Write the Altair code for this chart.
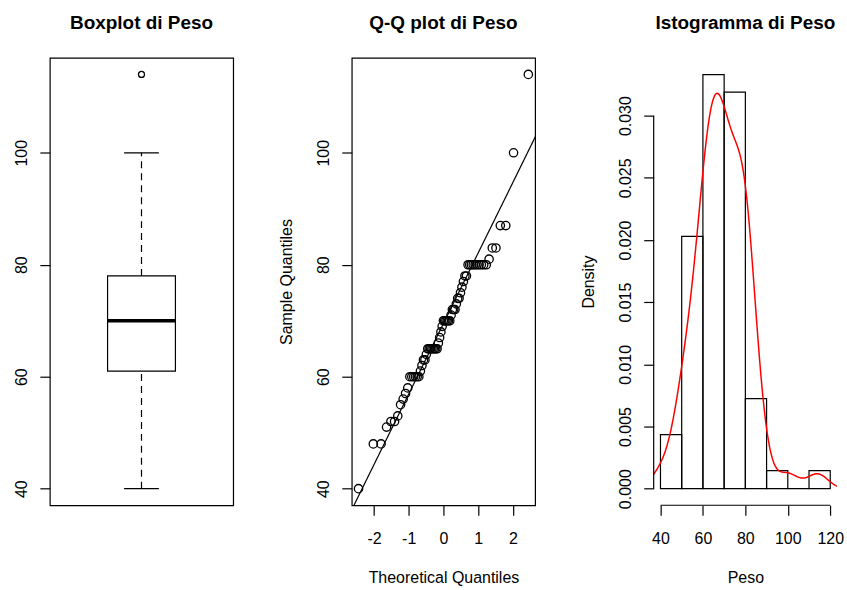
import altair as alt
import pandas as pd

# ---------------- data ----------------
peso = [40, 48, 48,
        51, 52, 52, 53, 55, 56, 57, 58, 60, 60, 60, 60, 60, 60,
        61, 62, 63, 63, 64, 65, 65, 65, 65, 65, 65, 65, 65, 66, 67, 68, 69,
        70, 70, 70, 70, 70, 70,
        71, 72, 72, 72, 73, 74, 74, 75, 76, 77, 78, 78,
        80, 80, 80, 80, 80, 80, 80, 80, 80, 80,
        81, 83, 83, 87, 87, 100, 114]

box_stats = [40, 61, 70, 78, 100]      # lower whisker, Q1, median, Q3, upper whisker
box_outliers = [114]
qq_quartiles = [61, 78]                # quartiles used by qqline

hist_start = [40, 50, 60, 70, 80, 90, 100, 110]
hist_end = [50, 60, 70, 80, 90, 100, 110, 120]
hist_density = [0.00435, 0.0203, 0.0333, 0.0319, 0.00725, 0.00145, 0.0, 0.00145]
kde_bandwidth = 4.9

box_y_ticks = [40, 60, 80, 100]
qq_x_ticks = [-2, -1, 0, 1, 2]
hist_x_ticks = [40, 60, 80, 100, 120]
hist_y_ticks = [0.0, 0.005, 0.010, 0.015, 0.020, 0.025, 0.030]

titles = ["Boxplot di Peso", "Q-Q plot di Peso", "Istogramma di Peso"]

# ---------------- layout / style ----------------
FONT = "Liberation Sans"
W, H = 184, 449
Y_DOM = [37.04, 116.96]
ysc = alt.Scale(domain=Y_DOM, nice=False, zero=False)


def ptitle(t):
    return alt.TitleParams(t, font=FONT, fontSize=19, fontWeight="bold", color="black",
                           anchor="middle", frame="group", baseline="alphabetic", offset=10)


# ---------------- panel 1: boxplot ----------------
box_df = pd.DataFrame({"lo": [box_stats[0]], "q1": [box_stats[1]], "med": [box_stats[2]],
                       "q3": [box_stats[3]], "hi": [box_stats[4]]})
out_df = pd.DataFrame({"v": box_outliers})
bxsc = alt.Scale(domain=[0.5, 1.5], nice=False, zero=False)
yax1 = alt.Axis(values=box_y_ticks, title=None, labelExpr="'' + datum.value")
DASH = [7, 5]

bbase = alt.Chart(box_df)
whisk_hi = bbase.mark_rule(color="black", strokeWidth=1.2, strokeDash=DASH).encode(
    x=alt.X(datum=1.0, scale=bxsc, axis=None),
    y=alt.Y("q3:Q", scale=ysc, axis=yax1), y2="hi:Q")
whisk_lo = bbase.mark_rule(color="black", strokeWidth=1.2, strokeDash=DASH).encode(
    x=alt.X(datum=1.0, scale=bxsc, axis=None),
    y=alt.Y("lo:Q", scale=ysc, axis=yax1), y2="q1:Q")
cap_hi = bbase.mark_rule(color="black", strokeWidth=1.2).encode(
    x=alt.X(datum=0.905, scale=bxsc, axis=None), x2=alt.datum(1.095),
    y=alt.Y("hi:Q", scale=ysc, axis=yax1))
cap_lo = bbase.mark_rule(color="black", strokeWidth=1.2).encode(
    x=alt.X(datum=0.905, scale=bxsc, axis=None), x2=alt.datum(1.095),
    y=alt.Y("lo:Q", scale=ysc, axis=yax1))
box = bbase.mark_rect(fill="white", stroke="black", strokeWidth=1.2).encode(
    x=alt.X(datum=0.815, scale=bxsc, axis=None), x2=alt.datum(1.185),
    y=alt.Y("q1:Q", scale=ysc, axis=yax1), y2="q3:Q")
med = bbase.mark_rule(color="black", strokeWidth=3.5).encode(
    x=alt.X(datum=0.815, scale=bxsc, axis=None), x2=alt.datum(1.185),
    y=alt.Y("med:Q", scale=ysc, axis=yax1))
outl = alt.Chart(out_df).mark_point(shape="circle", filled=False, size=36, color="black",
                                    strokeWidth=1.3, opacity=1).encode(
    x=alt.X(datum=1.0, scale=bxsc, axis=None),
    y=alt.Y("v:Q", scale=ysc, axis=yax1))

p1 = alt.layer(whisk_hi, whisk_lo, cap_hi, cap_lo, box, med, outl).properties(
    width=W, height=H, title=ptitle(titles[0]),
    view=alt.ViewBackground(stroke="black", strokeWidth=1.2))

# ---------------- panel 2: Q-Q plot ----------------
qxsc = alt.Scale(domain=[-2.64, 2.64], nice=False, zero=False)
xax2 = alt.Axis(values=qq_x_ticks, title="Theoretical Quantiles", labelExpr="'' + datum.value")
yax2 = alt.Axis(values=box_y_ticks, title="Sample Quantiles", labelExpr="'' + datum.value")

qq = (alt.Chart(pd.DataFrame({"peso": peso}))
      .transform_joinaggregate(n="count()")
      .transform_window(i="row_number()", sort=[alt.SortField("peso", order="ascending")])
      .transform_calculate(theo="quantileNormal((datum.i - 0.5) / datum.n)"))
qpts = qq.mark_point(shape="circle", filled=False, size=70, color="black",
                     strokeWidth=1.3, opacity=1).encode(
    x=alt.X("theo:Q", scale=qxsc, axis=xax2),
    y=alt.Y("peso:Q", scale=ysc, axis=yax2))

line_df = pd.DataFrame({"t": [-3.0, 3.0], "a": [qq_quartiles[0]] * 2, "b": [qq_quartiles[1]] * 2})
qline = (alt.Chart(line_df)
         .transform_calculate(yy="datum.a + (datum.t - quantileNormal(0.25)) * (datum.b - datum.a)"
                                 " / (quantileNormal(0.75) - quantileNormal(0.25))")
         .mark_line(color="black", strokeWidth=1.2, clip=True)
         .encode(x=alt.X("t:Q", scale=qxsc, axis=xax2),
                 y=alt.Y("yy:Q", scale=ysc, axis=yax2)))

p2 = alt.layer(qline, qpts).properties(
    width=W, height=H, title=ptitle(titles[1]),
    view=alt.ViewBackground(stroke="black", strokeWidth=1.2))

# ---------------- panel 3: histogram + density ----------------
hxsc = alt.Scale(domain=[36.8, 123.2], nice=False, zero=False)
hysc = alt.Scale(domain=[-0.001332, 0.034652], nice=False, zero=False)
xax3 = alt.Axis(values=hist_x_ticks, title="Peso", labelExpr="'' + datum.value")
yax3 = alt.Axis(values=hist_y_ticks, title="Density", format=".3f")

hist_df = pd.DataFrame({"s": hist_start, "e": hist_end, "d": hist_density, "z": [0.0] * len(hist_start)})
bars = alt.Chart(hist_df).mark_rect(fill="white", fillOpacity=0, stroke="black", strokeWidth=1.2).encode(
    x=alt.X("s:Q", scale=hxsc, axis=xax3), x2="e:Q",
    y=alt.Y("z:Q", scale=hysc, axis=yax3), y2="d:Q")

dens = (alt.Chart(pd.DataFrame({"peso": peso}))
        .transform_density("peso", as_=["v", "dd"], bandwidth=kde_bandwidth, extent=[25, 130], steps=400)
        .mark_line(color="red", strokeWidth=1.5, clip=True)
        .encode(x=alt.X("v:Q", scale=hxsc, axis=xax3), y=alt.Y("dd:Q", scale=hysc, axis=yax3)))

yl_df = pd.DataFrame({"a": [hist_y_ticks[0]], "b": [hist_y_ticks[-1]]})
xl_df = pd.DataFrame({"a": [hist_x_ticks[0]], "b": [hist_x_ticks[-1]]})
yline = alt.Chart(yl_df).mark_rule(color="black", strokeWidth=1.2).encode(
    x=alt.value(0), y=alt.Y("a:Q", scale=hysc, axis=yax3), y2="b:Q")
xline = alt.Chart(xl_df).mark_rule(color="black", strokeWidth=1.2).encode(
    y=alt.value(H), x=alt.X("a:Q", scale=hxsc, axis=xax3), x2="b:Q")

p3 = alt.layer(bars, dens, yline, xline).properties(
    width=W, height=H, title=ptitle(titles[2]),
    view=alt.ViewBackground(stroke="transparent"))

chart = (alt.hconcat(p1, p2, p3, spacing=119, bounds="flush")
         .properties(padding={"left": 13, "top": 12, "right": 2, "bottom": 2}, background="white")
         .configure_view(stroke="transparent")
         .configure_axis(labelFont=FONT, titleFont=FONT, labelFontSize=16, titleFontSize=16,
                         labelColor="black", titleColor="black", tickColor="black", tickSize=10,
                         tickWidth=1.2, domain=False, grid=False, titleFontWeight="normal",
                         labelFlush=False, labelOverlap=False)
         .configure_axisY(labelAngle=270, labelAlign="center", labelBaseline="bottom",
                          labelPadding=10, titlePadding=21)
         .configure_axisX(labelPadding=15, titlePadding=24))

chart.save("out.html", embed_options={"renderer": "svg", "actions": False})
